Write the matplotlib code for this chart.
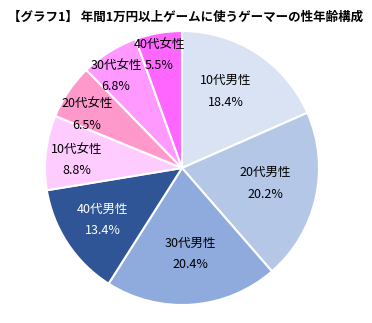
import matplotlib
matplotlib.use("Agg")
import matplotlib.pyplot as plt

plt.rcParams['font.family'] = ['Noto Sans CJK JP', 'DejaVu Sans']

labels = ["10代男性", "20代男性", "30代男性", "40代男性", "10代女性", "20代女性", "30代女性", "40代女性"]
values = [18.4, 20.2, 20.4, 13.4, 8.8, 6.5, 6.8, 5.5]
colors = ["#dae3f3", "#b4c7e7", "#8faadc", "#2f5597", "#ffccff", "#ff99cc", "#ff99ff", "#ff66ff"]
text_colors = ["black", "black", "black", "white", "black", "black", "black", "black"]
title = "【グラフ1】 年間1万円以上ゲームに使うゲーマーの性年齢構成"

# label block centres (layout, in pie-radius units)
label_pos = [(0.321, 0.558), (0.606, -0.113), (0.058, -0.628), (-0.577, -0.380),
             (-0.770, 0.058), (-0.693, 0.391), (-0.482, 0.672), (-0.164, 0.825)]

fig = plt.figure(figsize=(3.72, 3.23), dpi=100)
ax = fig.add_axes([45/372, 18/323, 274/372, 274/323])
wedges, _ = ax.pie(values, colors=colors, startangle=90, counterclock=False,
                   radius=1, wedgeprops=dict(edgecolor="white", linewidth=1.5))
for l, v, c, (x, y) in zip(labels, values, text_colors, label_pos):
    ax.text(x, y, f"{l}\n{v:.1f}%", ha="center", va="center", fontsize=9,
            color=c, linespacing=1.85)
ax.set_xlim(-1, 1)
ax.set_ylim(-1, 1)
ax.set_aspect("auto")
ax.axis("off")

fig.text(186/372, 1 - 17/323, title, ha="center", va="center", fontsize=9, fontweight="bold")
fig.savefig("out.png", dpi=100)
